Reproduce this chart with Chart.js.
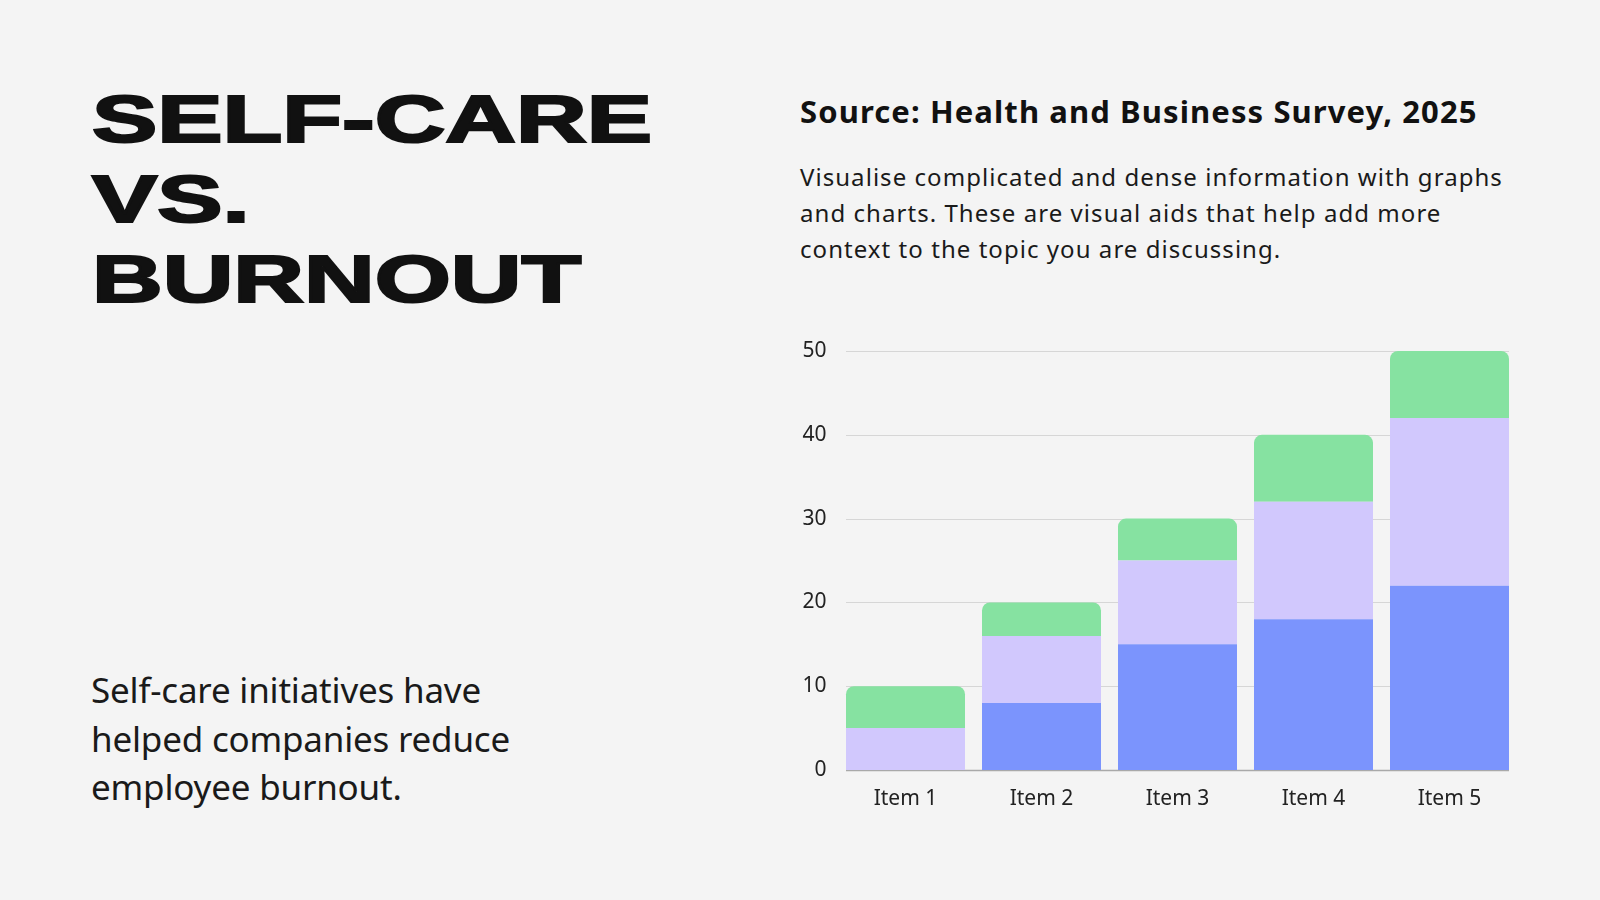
<!DOCTYPE html>
<html>
<head>
<meta charset="utf-8">
<script src="https://cdn.jsdelivr.net/npm/chart.js@4.4.1/dist/chart.umd.min.js"></script>
<style>
  html, body { margin: 0; padding: 0; }
  body { width: 1600px; height: 900px; background: #f4f4f4; position: relative; overflow: hidden; color: #111; }
  .title {
    position: absolute; left: 92px; top: 79px;
    font-family: "Liberation Sans", Arial, sans-serif; font-weight: 700; font-size: 67px; line-height: 80px;
    -webkit-text-stroke: 2.2px #111; color: #111;
    transform-origin: 0 0; white-space: nowrap;
  }
  .source {
    position: absolute; left: 800px; top: 91px;
    font-family: "Noto Sans", sans-serif; font-weight: 700; font-size: 31px; line-height: 40px;
    letter-spacing: 1.1px; color: #111; white-space: nowrap;
  }
  .desc {
    position: absolute; left: 800px; top: 159px;
    font-family: "Noto Sans", sans-serif; font-size: 24px; line-height: 36px;
    letter-spacing: 1.05px; color: #1a1a1a; white-space: nowrap;
  }
  .note {
    position: absolute; left: 91px; top: 666px;
    font-family: "Noto Sans", sans-serif; font-size: 35px; line-height: 48.5px;
    letter-spacing: -0.2px; color: #1a1a1a; white-space: nowrap;
  }
  #chartBox { position: absolute; left: 780px; top: 320px; width: 760px; height: 500px; }
</style>
</head>
<body>
<div class="title" id="title">SELF-CARE<br>VS.<br>BURNOUT</div>
<div class="source">Source: Health and Business Survey, 2025</div>
<div class="desc">Visualise complicated and dense information with graphs<br>and charts. These are visual aids that help add more<br>context to the topic you are discussing.</div>
<div class="note">Self-care initiatives have<br>helped companies reduce<br>employee burnout.</div>
<div id="chartBox"><canvas id="barChart"></canvas></div>

<script>
// Datos del gráfico
const categories = ['Item 1', 'Item 2', 'Item 3', 'Item 4', 'Item 5'];
const seriesBlue = [0, 8, 15, 18, 22];
const seriesLavender = [5, 8, 10, 14, 20];
const seriesGreen = [5, 4, 5, 8, 8];
const yMin = 0;
const yMax = 50;
const yStep = 10;

// Ensanchar el título como en la referencia
const titleEl = document.getElementById('title');
const probe = document.createElement('span');
probe.textContent = 'SELF-CARE';
probe.style.font = '700 67px "Liberation Sans"';
probe.style.position = 'absolute';
probe.style.visibility = 'hidden';
probe.style.whiteSpace = 'nowrap';
document.body.appendChild(probe);
const firstLineWidth = probe.getBoundingClientRect().width;
probe.remove();
titleEl.style.transform = 'scaleX(' + (560 / firstLineWidth) + ')';

// Líneas de la rejilla solo entre el borde de la primera y la última barra
const gridPlugin = {
    id: 'barGrid',
    beforeDatasetsDraw(chart) {
        const meta = chart.getDatasetMeta(0);
        const first = meta.data[0];
        const last = meta.data[meta.data.length - 1];
        const x0 = first.x - first.width / 2;
        const x1 = last.x + last.width / 2;
        const yScale = chart.scales.y;
        const c = chart.ctx;
        c.save();
        yScale.ticks.forEach(t => {
            const y = Math.round(yScale.getPixelForValue(t.value)) + 0.5;
            c.beginPath();
            c.strokeStyle = t.value === yMin ? '#a9a9a9' : '#d6d6d6';
            c.lineWidth = t.value === yMin ? 1.5 : 1.2;
            c.moveTo(x0, y);
            c.lineTo(x1, y);
            c.stroke();
        });
        c.restore();
    }
};

const tickFont = { family: '"Noto Sans", sans-serif', size: 21 };

const ctx = document.getElementById('barChart').getContext('2d');
const barChart = new Chart(ctx, {
    type: 'bar',
    data: {
        labels: categories,
        datasets: [
            {
                label: 'Series 1',
                data: seriesBlue,
                backgroundColor: '#7b94fd',
                borderWidth: 0,
                borderRadius: 0
            },
            {
                label: 'Series 2',
                data: seriesLavender,
                backgroundColor: '#d1c8fd',
                borderWidth: 0,
                borderRadius: 0
            },
            {
                label: 'Series 3',
                data: seriesGreen,
                backgroundColor: '#86e2a1',
                borderWidth: 0,
                borderRadius: { topLeft: 8, topRight: 8, bottomLeft: 0, bottomRight: 0 }
            }
        ]
    },
    options: {
        responsive: true,
        maintainAspectRatio: false,
        animation: false,
        layout: { padding: { top: 31, right: 22.5, left: 0, bottom: 0 } },
        categoryPercentage: 0.875,
        barPercentage: 1.0,
        scales: {
            x: {
                stacked: true,
                grid: { display: false },
                border: { display: false },
                ticks: { color: '#222', font: tickFont, padding: 8 },
                afterFit: function(scale) { scale.height = 50; }
            },
            y: {
                stacked: true,
                min: yMin,
                max: yMax,
                ticks: { stepSize: yStep, color: '#222', font: tickFont, padding: 11 },
                grid: { display: false, drawTicks: false },
                border: { display: false },
                afterFit: function(scale) { scale.width = 57.5; }
            }
        },
        plugins: {
            legend: { display: false },
            tooltip: { enabled: false }
        }
    },
    plugins: [gridPlugin]
});
</script>
</body>
</html>
